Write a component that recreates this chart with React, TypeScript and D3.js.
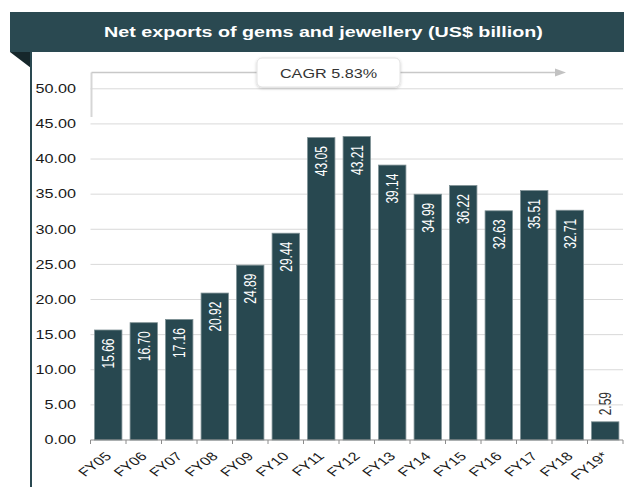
import React, { useEffect } from "react";
import * as d3 from "d3";

const categories = ["FY05", "FY06", "FY07", "FY08", "FY09", "FY10", "FY11", "FY12", "FY13", "FY14", "FY15", "FY16", "FY17", "FY18", "FY19*"];
const values = [15.66, 16.7, 17.16, 20.92, 24.89, 29.44, 43.05, 43.21, 39.14, 34.99, 36.22, 32.63, 35.51, 32.71, 2.59];
const yTickValues = [0, 5, 10, 15, 20, 25, 30, 35, 40, 45, 50];
const title = "Net exports of gems and jewellery (US$ billion)";
const cagrLabel = "CAGR 5.83%";

const W = 624;
const H = 487;
const SX = 1.35; // horizontal stretch of the original rendering
const FONT = "'Liberation Sans', Arial, Helvetica, sans-serif";
const DARK = "#2a4951";

export default function App() {
  useEffect(() => {
    document.body.style.margin = "0";
  }, []);

  const x = d3
    .scaleBand<string>()
    .domain(categories)
    .range([90.5, 623])
    .paddingInner(0.23)
    .paddingOuter(0.115);
  const step = x.step();
  const bandStart = 90.5;
  const y = d3.scaleLinear().domain([0, 50]).range([440, 88.8]);

  const boundaries = d3.range(categories.length + 1).map((i) => bandStart + i * step);

  return (
    <svg width={W} height={H} style={{ position: "absolute", left: 0, top: 0, display: "block" }} fontFamily={FONT}>
      <defs>
        <filter id="shadow" x="-10%" y="-30%" width="120%" height="160%">
          <feDropShadow dx="0" dy="1" stdDeviation="1.5" floodColor="#000" floodOpacity="0.22" />
        </filter>
      </defs>
      <rect x={0} y={0} width={W} height={H} fill="#ffffff" />

      {/* title bar */}
      <rect x={10} y={12} width={W - 10} height={40} fill={DARK} />
      <text
        transform={`translate(${323.5},${37}) scale(${SX},1)`}
        textAnchor="middle"
        fill="#ffffff"
        fontWeight="bold"
        fontSize={14.6}
      >
        {title}
      </text>
      <polygon points="10,52 31,52 31,68" fill="#16272b" />
      <line x1={31} y1={52} x2={31} y2={H} stroke={DARK} strokeWidth={2} />

      {/* gridlines */}
      {yTickValues
        .filter((v) => v > 0)
        .map((v) => (
          <line key={"g" + v} x1={90.5} x2={623} y1={y(v)} y2={y(v)} stroke="#d9d9d9" strokeWidth={1} />
        ))}

      {/* CAGR bracket */}
      <line x1={91.5} y1={117} x2={91.5} y2={72.5} stroke="#d6d6d6" strokeWidth={2} />
      <line x1={91.5} y1={72.5} x2={556} y2={72.5} stroke="#c8c8c8" strokeWidth={1.5} />
      <polygon points="555,68.5 566,72.5 555,76.5" fill="#c2c2c2" />
      <rect x={257} y={58} width={143} height={29} rx={5} fill="#ffffff" stroke="#e2e2e2" strokeWidth={1} filter="url(#shadow)" />
      <text transform={`translate(${328.5},${77.5}) scale(${SX},1)`} textAnchor="middle" fontSize={12} fill="#333333">
        {cagrLabel}
      </text>

      {/* y labels */}
      {yTickValues.map((v) => (
        <text
          key={"y" + v}
          transform={`translate(${76},${y(v)}) scale(${SX},1)`}
          textAnchor="end"
          dy="0.36em"
          fontSize={12}
          fill="#1a1a1a"
        >
          {v.toFixed(2)}
        </text>
      ))}

      {/* bars */}
      {categories.map((c, i) => {
        const v = values[i];
        const bx = x(c) as number;
        const bw = x.bandwidth();
        const top = y(v);
        const cx = bx + bw / 2;
        const inside = y(0) - top > 45;
        return (
          <g key={c}>
            <rect x={bx} y={top} width={bw} height={y(0) - top} fill="#284850" stroke="#7d8f93" strokeWidth={0.8} />
            {inside ? (
              <text
                transform={`translate(${cx},${top + 8.5}) scale(${SX},1) rotate(-90)`}
                textAnchor="end"
                dy="0.36em"
                fontSize={12}
                fill="#ffffff"
              >
                {v.toFixed(2)}
              </text>
            ) : (
              <text
                transform={`translate(${cx},${top - 6.5}) scale(${SX},1) rotate(-90)`}
                textAnchor="start"
                dy="0.36em"
                fontSize={12}
                fill="#333333"
              >
                {v.toFixed(2)}
              </text>
            )}
          </g>
        );
      })}

      {/* x axis */}
      <line x1={90.5} x2={623} y1={y(0)} y2={y(0)} stroke="#8c8c8c" strokeWidth={1} />
      {boundaries.map((b, i) => (
        <line key={"t" + i} x1={b} x2={b} y1={y(0)} y2={y(0) + 4} stroke="#8c8c8c" strokeWidth={1} />
      ))}
      {categories.map((c) => {
        const cx = (x(c) as number) + x.bandwidth() / 2;
        return (
          <text
            key={"xl" + c}
            transform={`translate(${cx + 4},${457}) scale(${SX},1) rotate(-45)`}
            textAnchor="end"
            fontSize={12}
            fill="#1a1a1a"
          >
            {c}
          </text>
        );
      })}
    </svg>
  );
}
